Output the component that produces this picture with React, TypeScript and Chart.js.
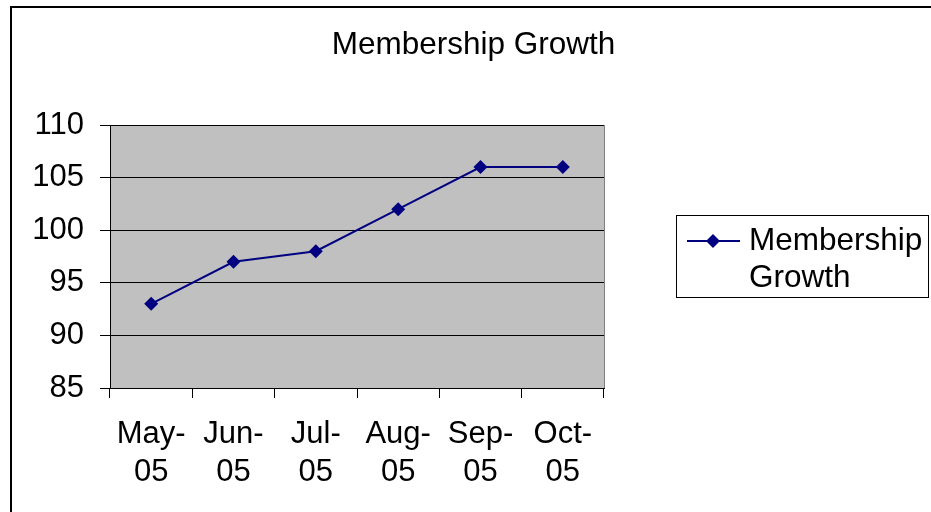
import React, { useEffect, useRef } from 'react';
import { Chart, registerables } from 'chart.js';

Chart.register(...registerables);

const TITLE = 'Membership Growth';
const SERIES_LABEL = 'Membership Growth';
const CATEGORIES: string[][] = [
  ['May-', '05'],
  ['Jun-', '05'],
  ['Jul-', '05'],
  ['Aug-', '05'],
  ['Sep-', '05'],
  ['Oct-', '05'],
];
const VALUES = [93, 97, 98, 102, 106, 106];
const Y_MIN = 85;
const Y_MAX = 110;
const Y_STEP = 5;

const FONT = "'Liberation Sans', Arial, sans-serif";
const NAVY = '#000080';

const decorPlugin = {
  id: 'decor',
  beforeDraw(chart: any) {
    const { ctx, chartArea } = chart;
    ctx.save();
    // plot area background
    ctx.fillStyle = '#C0C0C0';
    ctx.fillRect(chartArea.left, chartArea.top, chartArea.right - chartArea.left, chartArea.bottom - chartArea.top);
    ctx.strokeStyle = '#808080';
    ctx.lineWidth = 1;
    ctx.strokeRect(chartArea.left + 0.5, chartArea.top + 0.5, chartArea.right - chartArea.left, chartArea.bottom - chartArea.top);
    ctx.restore();
  },
  afterDraw(chart: any) {
    const { ctx } = chart;
    ctx.save();
    // outer border
    ctx.strokeStyle = '#000';
    ctx.lineWidth = 2;
    ctx.beginPath();
    ctx.moveTo(11, chart.height + 5);
    ctx.lineTo(11, 7);
    ctx.lineTo(chart.width + 5, 7);
    ctx.stroke();

    // title
    ctx.fillStyle = '#000';
    ctx.font = `31.5px ${FONT}`;
    ctx.textAlign = 'center';
    ctx.textBaseline = 'alphabetic';
    ctx.fillText(TITLE, 473.5, 54);

    // legend
    ctx.lineWidth = 1;
    ctx.strokeStyle = '#000';
    ctx.strokeRect(676.5, 215.5, 252, 82);
    const ds = chart.data.datasets[0];
    ctx.strokeStyle = NAVY;
    ctx.lineWidth = 2;
    ctx.beginPath();
    ctx.moveTo(687, 241);
    ctx.lineTo(740, 241);
    ctx.stroke();
    ctx.fillStyle = NAVY;
    ctx.beginPath();
    ctx.moveTo(713, 234);
    ctx.lineTo(720, 241);
    ctx.lineTo(713, 248);
    ctx.lineTo(706, 241);
    ctx.closePath();
    ctx.fill();
    ctx.fillStyle = '#000';
    ctx.font = `31.5px ${FONT}`;
    ctx.textAlign = 'left';
    const lines = String(ds.label).split(' ');
    lines.forEach((l: string, i: number) => {
      ctx.fillText(l, 749, 250 + i * 37);
    });
    ctx.restore();
  },
};

export default function App() {
  const ref = useRef<HTMLCanvasElement | null>(null);

  useEffect(() => {
    document.body.style.margin = '0';
    const canvas = ref.current;
    if (!canvas) return;
    const chart = new Chart(canvas, {
      type: 'line',
      data: {
        labels: CATEGORIES,
        datasets: [
          {
            label: SERIES_LABEL,
            data: VALUES,
            borderColor: NAVY,
            backgroundColor: NAVY,
            borderWidth: 2,
            tension: 0,
            pointStyle: 'rectRot',
            pointRadius: 7,
            pointBorderWidth: 0,
            pointBackgroundColor: NAVY,
            pointBorderColor: NAVY,
          },
        ],
      },
      options: {
        responsive: false,
        animation: false,
        devicePixelRatio: 1,
        layout: { padding: { left: 0, top: 125, right: 327, bottom: 0 } },
        plugins: {
          legend: { display: false },
          title: { display: false },
          tooltip: { enabled: false },
        },
        scales: {
          x: {
            type: 'category',
            offset: true,
            grid: {
              offset: true,
              drawOnChartArea: false,
              drawTicks: true,
              tickLength: 10,
              color: '#000',
              lineWidth: 1,
            },
            border: { display: true, color: '#000', width: 1 },
            ticks: {
              color: '#000',
              padding: 18,
              maxRotation: 0,
              autoSkip: false,
              font: { family: FONT, size: 31, lineHeight: 1.22 },
            },
            afterFit(scale: any) {
              scale.height = 124;
            },
          },
          y: {
            min: Y_MIN,
            max: Y_MAX,
            grid: {
              color: '#000',
              lineWidth: 1,
              drawTicks: true,
              tickLength: 10,
            },
            border: { display: true, color: '#000', width: 1 },
            ticks: {
              stepSize: Y_STEP,
              color: '#000',
              padding: 16,
              font: { family: FONT, size: 31 },
            },
            afterFit(scale: any) {
              scale.width = 110;
            },
          },
        },
      },
      plugins: [decorPlugin],
    });
    return () => chart.destroy();
  }, []);

  return <canvas ref={ref} width={931} height={512} style={{ display: 'block', width: 931, height: 512 }} />;
}
